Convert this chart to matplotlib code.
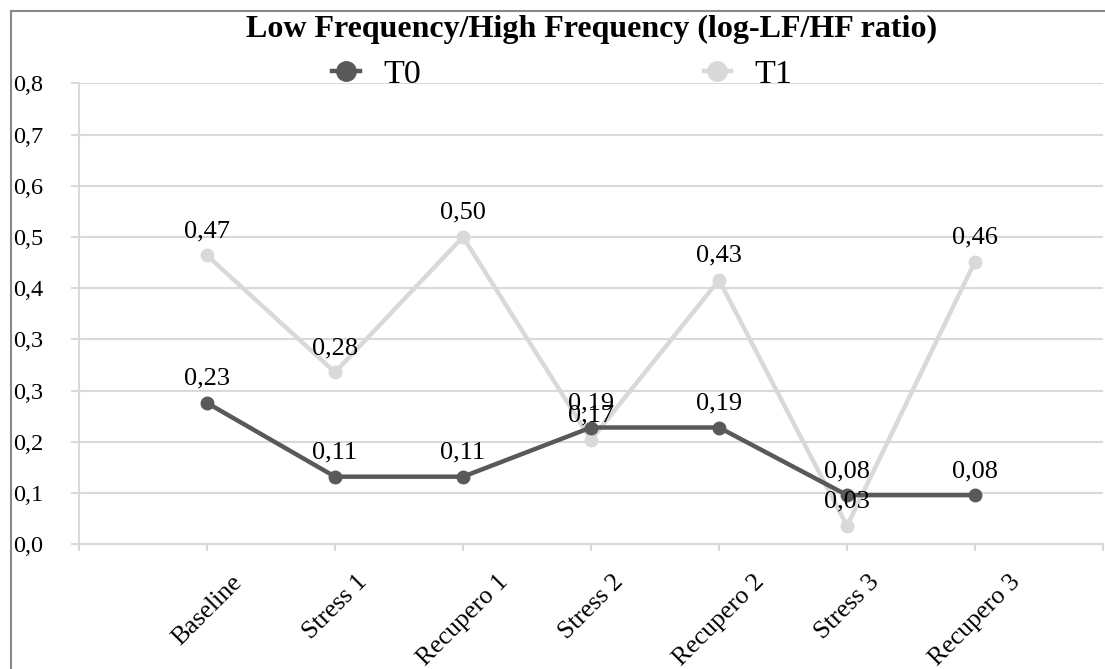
import numpy as np
import matplotlib
matplotlib.use("Agg")
import matplotlib.pyplot as plt
from matplotlib.lines import Line2D
from matplotlib.patches import Rectangle

# data (data labels)
categories = ["Baseline", "Stress 1", "Recupero 1", "Stress 2", "Recupero 2", "Stress 3", "Recupero 3"]
t0_values = [0.23, 0.11, 0.11, 0.19, 0.19, 0.08, 0.08]
t1_values = [0.47, 0.28, 0.50, 0.17, 0.43, 0.03, 0.46]
series_names = ["T0", "T1"]
y_max = 0.75
n_steps = 9
title = "Low Frequency/High Frequency (log-LF/HF ratio)"

DARK = "#595959"
LIGHT = "#d9d9d9"
GRID = "#d9d9d9"

plt.rcParams["font.family"] = ["Liberation Serif", "DejaVu Serif"]


def fmt_tick(v):
  # excel style: round half up to one decimal, comma separator
  return f"{round(v * 10 + 1e-9) / 10:.1f}".replace(".", ",")


def fmt_label(v):
  return f"{v:.2f}".replace(".", ",")


fig = plt.figure(figsize=(11.05, 6.69), dpi=100)
ax = fig.add_axes([0.0715, 0.1864, 0.9267, 0.6891])

x = np.arange(1, len(categories) + 1)
ax.plot(x, t1_values, color=LIGHT, lw=3.2, marker="o", ms=9, zorder=3)
ax.plot(x, t0_values, color=DARK, lw=3.2, marker="o", ms=9, zorder=4)

for xi, v in zip(x, t1_values):
  ax.annotate(fmt_label(v), (xi, v), xytext=(0, 13), textcoords="offset points",
              ha="center", va="baseline", fontsize=19, zorder=6)
for xi, v in zip(x, t0_values):
  ax.annotate(fmt_label(v), (xi, v), xytext=(0, 13), textcoords="offset points",
              ha="center", va="baseline", fontsize=19, zorder=6)

ax.set_xlim(0, len(categories) + 1)
ax.set_ylim(0, y_max)
yticks = np.arange(n_steps + 1) * y_max / n_steps
ax.set_yticks(yticks)
ax.set_yticklabels([fmt_tick(v) for v in yticks])
ax.set_xticks(np.arange(len(categories) + 2))
ax.set_xticklabels([""] + categories + [""], rotation=45, ha="center", va="top")

ax.yaxis.grid(True, color=GRID, lw=1.5)
ax.set_axisbelow(True)
for side in ("top", "right"):
  ax.spines[side].set_visible(False)
for side in ("left", "bottom"):
  ax.spines[side].set_color(GRID)
  ax.spines[side].set_linewidth(1.5)

ax.tick_params(axis="y", length=5.8, width=1.5, color=GRID, labelsize=17.5, pad=20)
ax.tick_params(axis="x", length=5.3, width=1.5, color=GRID, labelsize=18.5, pad=14)

fig.text(0.5353, 0.945, title, ha="center", va="baseline", fontsize=23, fontweight="bold")

handles = [
  Line2D([], [], color=DARK, lw=3.2, marker="o", ms=14),
  Line2D([], [], color=LIGHT, lw=3.2, marker="o", ms=14),
]
ax.legend(handles, series_names, loc="center", bbox_to_anchor=(0.509, 0.888),
          bbox_transform=fig.transFigure, ncol=2, frameon=False, fontsize=24.5,
          handlelength=0.8, handletextpad=0.7, columnspacing=8.3)

fig.patches.append(Rectangle((10.5 / 1105, -0.1), 1.2, 1 - 11 / 669 + 0.1,
                             transform=fig.transFigure, fill=False,
                             edgecolor="#888888", lw=1.5))

fig.savefig("out.png", dpi=100)
